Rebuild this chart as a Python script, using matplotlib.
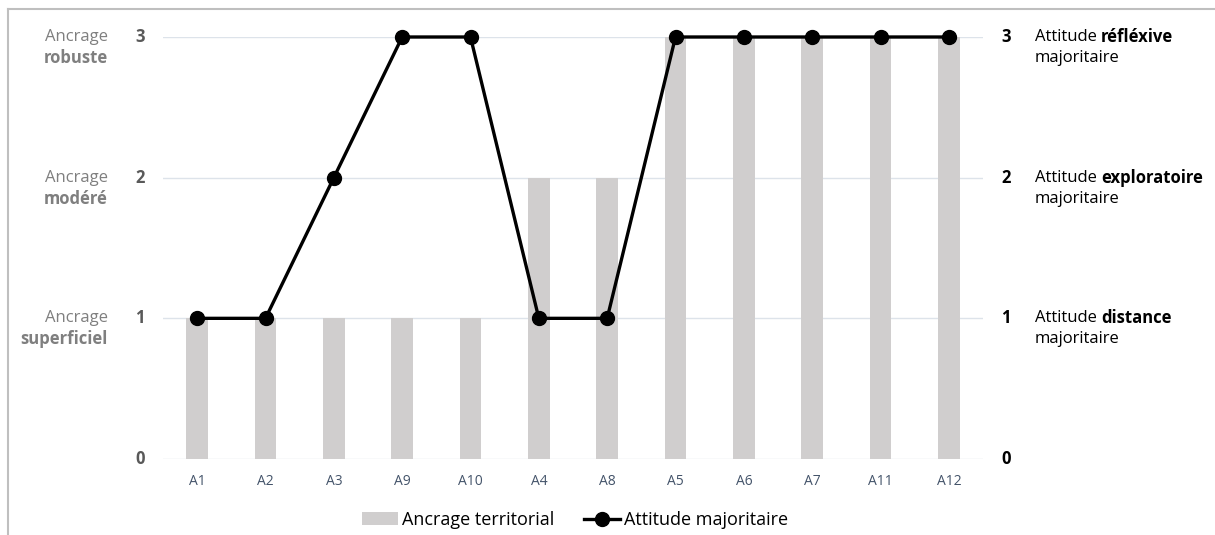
import matplotlib
matplotlib.use("Agg")
import matplotlib.pyplot as plt
from matplotlib.lines import Line2D
from matplotlib.patches import Patch

categories = ["A1", "A2", "A3", "A9", "A10", "A4", "A8", "A5", "A6", "A7", "A11", "A12"]
ancrage = [1, 1, 1, 1, 1, 2, 2, 3, 3, 3, 3, 3]
attitude = [1, 1, 2, 3, 3, 1, 1, 3, 3, 3, 3, 3]
left_labels = [("Ancrage", "superficiel"), ("Ancrage", "modéré"), ("Ancrage", "robuste")]
right_labels = [("Attitude ", "distance"), ("Attitude ", "exploratoire"), ("Attitude ", "réfléxive")]
yticks = [0, 1, 2, 3]

FONT = "Open Sans"
plt.rcParams["font.family"] = [FONT, "DejaVu Sans"]

W, H = 1215, 535
fig = plt.figure(figsize=(W / 100, H / 100), dpi=100)
ax = fig.add_axes([163 / W, 76 / H, 820 / W, 422 / H])

x = list(range(len(categories)))
ax.bar(x, ancrage, width=0.32, color="#d0cece", zorder=2, label="Ancrage territorial")
ax.plot(x, attitude, color="black", lw=2.4, marker="o", ms=10, zorder=3, clip_on=False,
        label="Attitude majoritaire")

ax.set_xlim(-0.5, len(categories) - 0.5)
ax.set_ylim(0, 3)
for yv in yticks:
    ax.axhline(yv, color="#dde3ea", lw=1, zorder=1)
for s in ax.spines.values():
    s.set_visible(False)
ax.set_xticks(x)
ax.set_xticklabels(categories, color="#44546a", fontsize=10)
ax.tick_params(axis="x", length=0, pad=11)
ax.set_yticks([])

trans_l = matplotlib.transforms.blended_transform_factory(fig.transFigure, ax.transData)
for yv in yticks:
    ax.text(140 / W, yv, str(yv), transform=trans_l, ha="center", va="center",
            fontsize=12, fontweight="bold", color="#595959")
    ax.text(1006 / W, yv, str(yv), transform=trans_l, ha="center", va="center",
            fontsize=12, fontweight="bold", color="black")

fig.canvas.draw()
renderer = fig.canvas.get_renderer()
dy = 21 / 140.7
for i, (a, b) in enumerate(left_labels):
    yv = i + 1
    ax.text(108 / W, yv, a, transform=trans_l, ha="right", va="center", fontsize=12,
            color="#7f7f7f")
    ax.text(108 / W, yv - dy, b, transform=trans_l, ha="right", va="center", fontsize=12,
            fontweight="bold", color="#7f7f7f")
for i, (a, b) in enumerate(right_labels):
    yv = i + 1
    t = ax.text(1035 / W, yv, a, transform=trans_l, ha="left", va="center", fontsize=12,
                color="black")
    bb = t.get_window_extent(renderer)
    ax.text(bb.x1 / W, yv, b, transform=trans_l, ha="left", va="center", fontsize=12,
            fontweight="bold", color="black")
    ax.text(1035 / W, yv - dy, "majoritaire", transform=trans_l, ha="left", va="center",
            fontsize=12, color="black")

handles = [Patch(facecolor="#d0cece", edgecolor="none"),
           Line2D([], [], color="black", lw=2.4, marker="o", ms=10)]
fig.legend(handles, ["Ancrage territorial", "Attitude majoritaire"], loc="center",
           bbox_to_anchor=(575 / W, 1 - 520 / H), ncol=2, frameon=False, fontsize=13,
           handlelength=2.0, handleheight=0.75, handletextpad=0.25, columnspacing=1.6)

# frame lines (left and top)
fig.add_artist(Line2D([8 / W, 8 / W], [0, 1 - 9 / H], transform=fig.transFigure,
                      color="#bfbfbf", lw=1.5))
fig.add_artist(Line2D([8 / W, 1], [1 - 9 / H, 1 - 9 / H], transform=fig.transFigure,
                      color="#bfbfbf", lw=1.5))

fig.savefig("out.png", dpi=100)
